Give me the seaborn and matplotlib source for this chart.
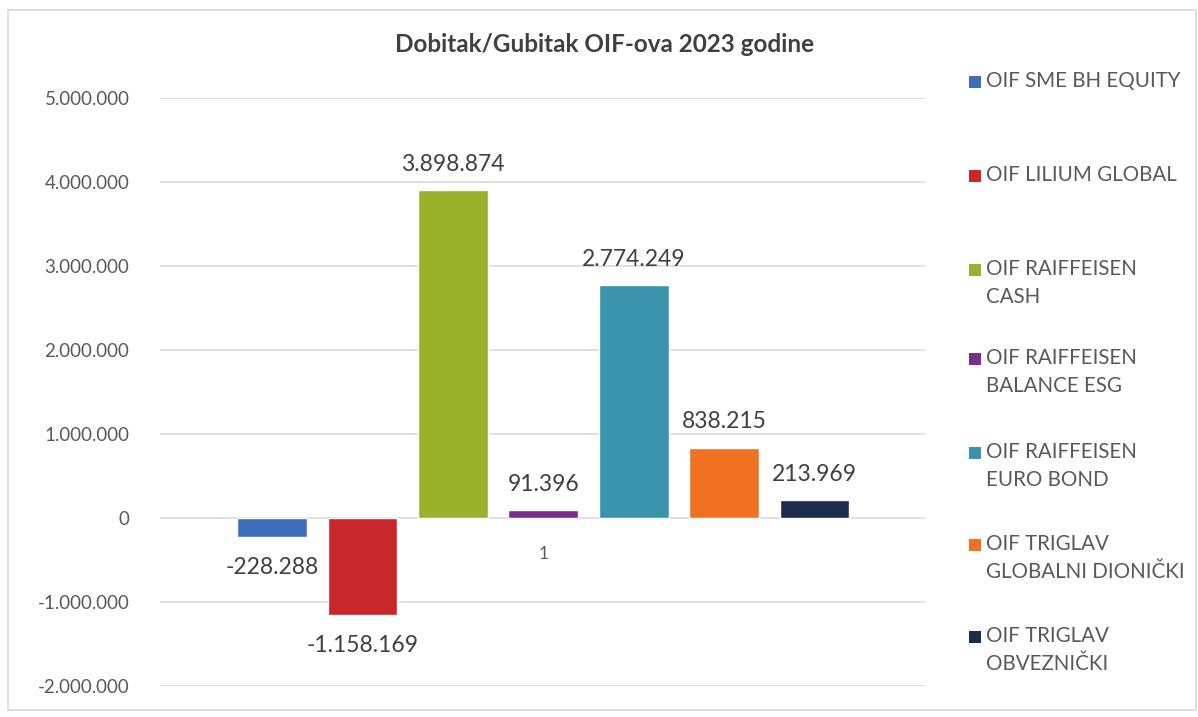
import matplotlib
matplotlib.use("Agg")
import matplotlib.pyplot as plt
from matplotlib.patches import Rectangle
import seaborn as sns
import pandas as pd

funds = ["OIF SME BH EQUITY", "OIF LILIUM GLOBAL", "OIF RAIFFEISEN\nCASH",
         "OIF RAIFFEISEN\nBALANCE ESG", "OIF RAIFFEISEN\nEURO BOND",
         "OIF TRIGLAV\nGLOBALNI DIONIČKI", "OIF TRIGLAV\nOBVEZNIČKI"]
values = [-228288, -1158169, 3898874, 91396, 2774249, 838215, 213969]
value_labels = ["-228.288", "-1.158.169", "3.898.874", "91.396", "2.774.249", "838.215", "213.969"]
colors = ["#3E6DBE", "#C8282A", "#9AB22A", "#7A2E8E", "#3A94AE", "#EF7222", "#1E2A4E"]
category = ["1"] * len(funds)
yticks = [-2000000, -1000000, 0, 1000000, 2000000, 3000000, 4000000, 5000000]
ytick_labels = ["-2.000.000", "-1.000.000", "0", "1.000.000", "2.000.000",
                "3.000.000", "4.000.000", "5.000.000"]
title = "Dobitak/Gubitak OIF-ova 2023 godine"

sns.set_style("white")
plt.rcParams["font.family"] = ["Lato", "DejaVu Sans"]

df = pd.DataFrame({"cat": category, "fund": funds, "value": values})

fig = plt.figure(figsize=(11.98, 7.17), dpi=100)
ax = fig.add_axes([160/1198, 1-686/717, (925-160)/1198, (686-98)/717])

sns.barplot(data=df, x="cat", y="value", hue="fund", hue_order=funds,
            palette=dict(zip(funds, colors)), errorbar=None, gap=0.23,
            legend=False, ax=ax, saturation=1, zorder=3)

ax.set_ylim(-2000000, 5000000)
ax.set_xlim(-0.4843, 0.4823)
ax.set_yticks(yticks)
ax.set_yticklabels(ytick_labels)
ax.set_xlabel("")
ax.set_ylabel("")
ax.grid(axis="y", color="#D9D9D9", linewidth=1.1, zorder=0)
ax.set_axisbelow(True)
for s in ax.spines.values():
    s.set_visible(False)
ax.spines["bottom"].set_position(("data", 0))
ax.tick_params(axis="x", length=0, pad=20, labelsize=12.5, labelcolor="#595959")
ax.tick_params(axis="y", length=0, pad=22, labelsize=13.5, labelcolor="#595959")

for bar, lab, v in zip(ax.patches, value_labels, values):
    x = bar.get_x() + bar.get_width() / 2
    if v >= 0:
        ax.annotate(lab, (x, v), xytext=(0, 11), textcoords="offset points",
                    ha="center", va="bottom", fontsize=16.5, color="#404040")
    else:
        ax.annotate(lab, (x, v), xytext=(0, -14), textcoords="offset points",
                    ha="center", va="top", fontsize=16.5, color="#404040")

fig.text(605/1198, 1-45/717, title, ha="center", va="center",
         fontsize=17.5, fontweight="bold", color="#404040")

# legend
leg_y = [82, 176, 270, 359, 453, 545, 637]
for name, c, yy in zip(funds, colors, leg_y):
    fig.patches.append(Rectangle((969/1198, 1-(yy+6)/717), 12/1198, 12/717,
                                 transform=fig.transFigure, facecolor=c,
                                 edgecolor="none"))
    fig.text(986/1198, 1-(yy-11)/717, name, ha="left", va="top", fontsize=14.8,
             color="#595959", linespacing=1.5)

# chart border
fig.patches.append(Rectangle((8/1198, 1-710/717), 1188/1198, 700/717,
                             transform=fig.transFigure, facecolor="none",
                             edgecolor="#D9D9D9", linewidth=1.2))

fig.savefig("out.png", dpi=100)
